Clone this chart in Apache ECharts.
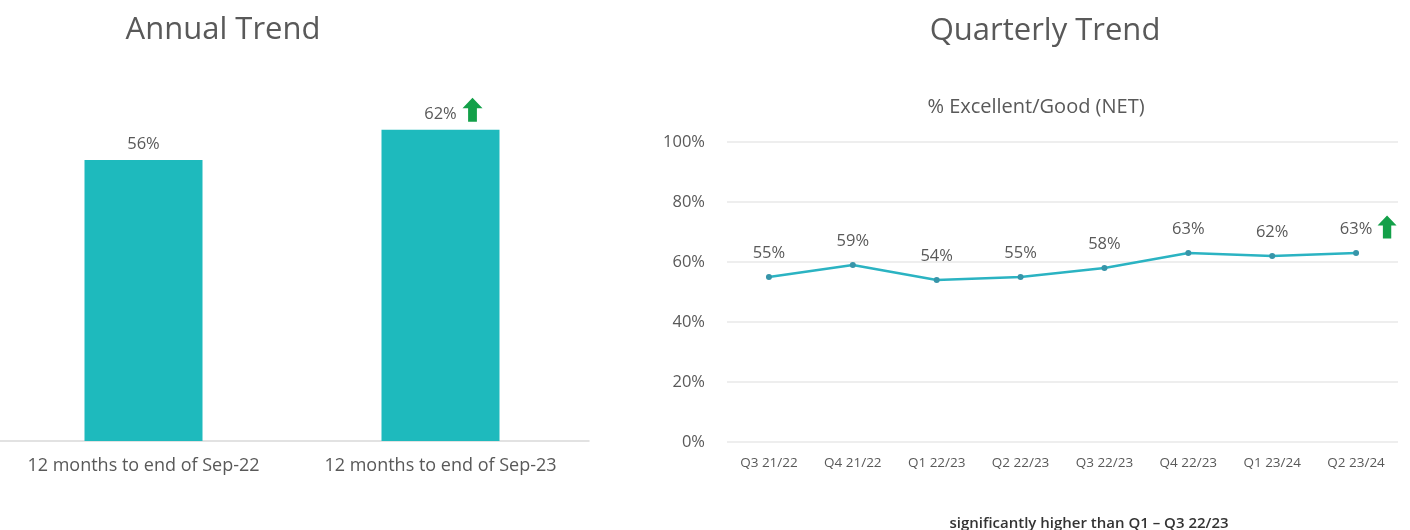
<!DOCTYPE html>
<html>
<head>
<meta charset="utf-8">
<script src="https://cdn.jsdelivr.net/npm/echarts@6/dist/echarts.min.js"></script>
<style>
  html, body { margin: 0; padding: 0; background: #ffffff; }
  #chart { width: 1410px; height: 530px; }
</style>
</head>
<body>
<div id="chart"></div>
<script>
// Annual trend: share rating Excellent/Good over each 12-month window
const annualCategories = ['12 months to end of Sep-22', '12 months to end of Sep-23'];
const annualValues = [56, 62];

// Quarterly trend: % Excellent/Good (NET)
const quarterCategories = ['Q3 21/22', 'Q4 21/22', 'Q1 22/23', 'Q2 22/23', 'Q3 22/23', 'Q4 22/23', 'Q1 23/24', 'Q2 23/24'];
const quarterValues = [55, 59, 54, 55, 58, 63, 62, 63];
const quarterTicks = [0, 20, 40, 60, 80, 100];

// Points flagged as significantly higher (index into each series)
const annualSignificant = [1];
const quarterSignificant = [7];

const TEXT = '#595959';
const FONT = '"Open Sans", "Noto Sans", sans-serif';
const GREEN = '#13a049';
const UP_ARROW = 'path://M50,0L100,44L72,44L72,100L28,100L28,44L0,44Z';

const chart = echarts.init(document.getElementById('chart'), null, { renderer: 'canvas' });

chart.setOption({
  backgroundColor: '#ffffff',
  animation: false,
  textStyle: { fontFamily: FONT },
  title: [
    { text: 'Annual Trend', left: 218, top: 10, textAlign: 'center',
      textStyle: { fontFamily: FONT, fontSize: 31, fontWeight: 'normal', color: TEXT } },
    { text: 'Quarterly Trend', left: 1040, top: 11, textAlign: 'center',
      textStyle: { fontFamily: FONT, fontSize: 31, fontWeight: 'normal', color: TEXT } },
    { text: '% Excellent/Good (NET)', left: 1031, top: 92, textAlign: 'center',
      textStyle: { fontFamily: FONT, fontSize: 20, fontWeight: 'normal', color: TEXT } },
    { text: 'significantly higher than Q1 \u2013 Q3 22/23', left: 1084, top: 511, textAlign: 'center',
      textStyle: { fontFamily: FONT, fontSize: 15, fontWeight: 600, color: '#333333' } }
  ],
  grid: [
    { left: -5, top: 39.4, width: 594, height: 401.6, outerBoundsMode: 'none' },
    { left: 727, top: 142, width: 671, height: 300, outerBoundsMode: 'none' }
  ],
  xAxis: [
    {
      gridIndex: 0, type: 'category', data: annualCategories,
      axisLine: { show: true, lineStyle: { color: '#d9d9d9', width: 1.5 } },
      axisTick: { show: false },
      axisLabel: { color: TEXT, fontFamily: FONT, fontSize: 18, margin: 16, interval: 0, hideOverlap: false }
    },
    {
      gridIndex: 1, type: 'category', data: quarterCategories,
      axisLine: { show: false },
      axisTick: { show: false },
      axisLabel: { color: TEXT, fontFamily: FONT, fontSize: 13.5, margin: 14, interval: 0 }
    }
  ],
  yAxis: [
    { gridIndex: 0, type: 'value', min: 0, max: 80, show: false },
    {
      gridIndex: 1, type: 'value', min: quarterTicks[0], max: quarterTicks[quarterTicks.length - 1], interval: 20,
      axisLine: { show: false }, axisTick: { show: false },
      axisLabel: { color: TEXT, fontFamily: FONT, fontSize: 16.5, margin: 22, formatter: '{value}%' },
      splitLine: { lineStyle: { color: '#e8e8e8', width: 1.5 } }
    }
  ],
  series: [
    {
      type: 'bar', xAxisIndex: 0, yAxisIndex: 0,
      data: annualValues, barWidth: 118,
      itemStyle: { color: '#1ebabd' },
      label: { show: true, position: 'top', distance: 7, color: TEXT, fontFamily: FONT, fontSize: 16.5, formatter: '{c}%' },
      markPoint: {
        symbol: UP_ARROW, symbolSize: [20, 24], symbolOffset: [32, -20],
        itemStyle: { color: GREEN }, label: { show: false },
        data: annualSignificant.map(i => ({ coord: [i, annualValues[i]] }))
      }
    },
    {
      type: 'line', xAxisIndex: 1, yAxisIndex: 1,
      data: quarterValues,
      lineStyle: { color: '#2bb3c2', width: 2.5 },
      symbol: 'circle', symbolSize: 6,
      itemStyle: { color: '#3795a9' },
      label: { show: true, position: 'top', distance: 12, color: TEXT, fontFamily: FONT, fontSize: 16.5, formatter: '{c}%' },
      markPoint: {
        symbol: UP_ARROW, symbolSize: [19, 23], symbolOffset: [31, -26],
        itemStyle: { color: GREEN }, label: { show: false },
        data: quarterSignificant.map(i => ({ coord: [i, quarterValues[i]] }))
      }
    }
  ]
});
</script>
</body>
</html>
